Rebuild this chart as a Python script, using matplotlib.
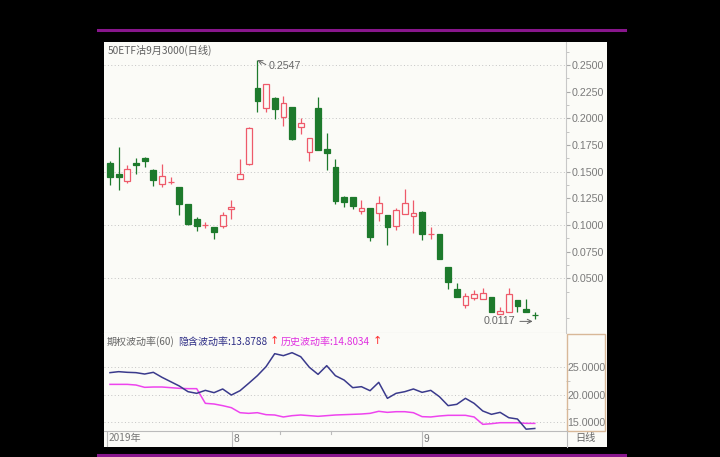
import matplotlib
matplotlib.use('Agg')
import matplotlib.pyplot as plt
import numpy as np
from matplotlib.patches import Rectangle
from matplotlib.lines import Line2D

plt.rcParams['font.family'] = ['Liberation Sans', 'Noto Sans CJK SC', 'DejaVu Sans']

# daily candles of 50ETF put Sep 3000
opens = [0.158, 0.148, 0.1415, 0.158, 0.1628, 0.1515, 0.138, 0.1400, 0.136, 0.1196,
         0.1053, 0.0995, 0.0983, 0.0989, 0.1147, 0.1428, 0.1569, 0.2281, 0.2094, 0.2193,
         0.2009, 0.2109, 0.1918, 0.1681, 0.2094, 0.1712, 0.1546, 0.1259, 0.1259, 0.1133,
         0.1156, 0.1109, 0.1093, 0.0990, 0.1099, 0.1083, 0.1124, 0.0913, 0.0915, 0.0602,
         0.0396, 0.0249, 0.0317, 0.0302, 0.0327, 0.0164, 0.0186, 0.0295, 0.0208, 0.0156]
highs = [0.160, 0.173, 0.156, 0.1625, 0.1634, 0.1522, 0.157, 0.1447, 0.136, 0.1196,
         0.1077, 0.103, 0.0983, 0.1124, 0.1233, 0.1618, 0.1921, 0.2547, 0.2319, 0.2203,
         0.2212, 0.2109, 0.2006, 0.1812, 0.2203, 0.1859, 0.1618, 0.1271, 0.1259, 0.1233,
         0.1156, 0.1271, 0.1093, 0.1156, 0.1337, 0.1233, 0.1133, 0.0983, 0.0918, 0.0602,
         0.0452, 0.0358, 0.0389, 0.0405, 0.0327, 0.0233, 0.0405, 0.0295, 0.0302, 0.0186]
lows = [0.137, 0.133, 0.1396, 0.148, 0.1546, 0.1365, 0.1358, 0.1384, 0.109, 0.0999,
        0.0946, 0.0968, 0.0865, 0.0974, 0.1055, 0.1428, 0.1562, 0.2062, 0.2056, 0.1993,
        0.1928, 0.1797, 0.1850, 0.1599, 0.1703, 0.1515, 0.1196, 0.1171, 0.1149, 0.1102,
        0.0852, 0.1040, 0.0811, 0.0952, 0.1099, 0.0921, 0.0858, 0.0868, 0.0677, 0.0396,
        0.0327, 0.0218, 0.0296, 0.0302, 0.0183, 0.0164, 0.0186, 0.0180, 0.0180, 0.0117]
closes = [0.145, 0.145, 0.152, 0.156, 0.1602, 0.142, 0.146, 0.1402, 0.1196, 0.1006,
          0.0990, 0.0997, 0.0931, 0.1093, 0.1167, 0.1480, 0.1906, 0.2162, 0.2319, 0.2087,
          0.2141, 0.1806, 0.1953, 0.1812, 0.1703, 0.1672, 0.1227, 0.1218, 0.1181, 0.1159,
          0.0889, 0.1203, 0.0977, 0.1140, 0.1209, 0.1115, 0.0915, 0.0916, 0.0677, 0.0464,
          0.0327, 0.0336, 0.0349, 0.0364, 0.0186, 0.0195, 0.0349, 0.0238, 0.0180, 0.0155]

# volatility (60)
implied_vol = [24.03, 24.21, 24.09, 24.03, 23.78, 24.09, 23.18, 22.39, 21.60, 20.57,
               20.27, 20.81, 20.39, 21.06, 19.96, 20.75, 22.09, 23.48, 25.12, 27.48,
               27.12, 27.66, 26.93, 25.00, 23.72, 25.30, 23.48, 22.69, 21.30, 21.48,
               20.75, 22.27, 19.36, 20.27, 20.57, 21.06, 20.45, 20.81, 19.66, 18.03,
               18.27, 19.36, 18.45, 17.06, 16.45, 16.81, 15.84, 15.60, 13.75, 13.88]
hist_vol = [21.90, 21.90, 21.90, 21.78, 21.36, 21.42, 21.42, 21.30, 21.18, 21.12,
            21.12, 18.45, 18.33, 18.03, 17.66, 16.75, 16.63, 16.75, 16.39, 16.33,
            15.97, 16.21, 16.33, 16.21, 16.09, 16.21, 16.33, 16.39, 16.45, 16.51,
            16.63, 17.00, 16.81, 16.93, 16.93, 16.75, 16.03, 15.97, 16.15, 16.27,
            16.27, 16.27, 15.97, 14.63, 14.75, 14.93, 14.93, 14.93, 14.81, 14.80]

price_ticks = [0.05, 0.075, 0.1, 0.125, 0.15, 0.175, 0.2, 0.225, 0.25]
vol_ticks = [15, 20, 25]

W, H = 720, 457
def fx(px):
    return px / W
def fy(py):
    return 1 - py / H

bg = '#fbfbf7'
green = '#1d7a2c'
red = '#ee5a6a'
grid_c = '#c4c4c4'
txt_c = '#7a7a7a'

fig = plt.figure(figsize=(7.2, 4.57), dpi=100, facecolor='black')

# purple rules and white panel (behind the axes)
for py in (30, 455):
    fig.add_artist(Line2D([fx(98), fx(625)], [fy(py), fy(py)], color='#88168c', lw=2.2))
fig.add_artist(Rectangle((fx(104), fy(447)), fx(607) - fx(104), (447 - 42) / H,
                         transform=fig.transFigure, facecolor=bg, edgecolor='none',
                         zorder=-10))

x = np.arange(len(opens))
xlim = (-0.69, 52.6)

# ---- main candle panel
ax = fig.add_axes([fx(104), fy(333), (566 - 104) / W, (333 - 42) / H])
ax.set_facecolor(bg)
ax.set_xlim(*xlim)
ax.set_ylim(-0.0014, 0.2716)
for s in ('left', 'top'):
    ax.spines[s].set_visible(False)
for s in ('right', 'bottom'):
    ax.spines[s].set_color('#c8c8c8')
    ax.spines[s].set_linewidth(0.8)
for g in [0.05, 0.1, 0.15, 0.2, 0.25]:
    ax.axhline(g, color=grid_c, lw=0.7, ls=(0, (1, 2.5)), zorder=0)

w = 0.66
for i in x:
    o, h, l, c = opens[i], highs[i], lows[i], closes[i]
    up = c >= o
    col = red if up else green
    ax.vlines(i, l, h, color=col, lw=0.9, zorder=2)
    bottom = min(o, c)
    height = max(abs(c - o), 0.0003)
    ax.add_patch(Rectangle((i - w / 2, bottom), w, height,
                           facecolor=bg if up else green, edgecolor=col,
                           lw=0.9, zorder=3))

ax.yaxis.tick_right()
ax.set_yticks(price_ticks)
ax.set_yticklabels(['%.4f' % v for v in price_ticks])
ax.set_yticks(np.arange(0.0125, 0.27, 0.025), minor=True)
ax.tick_params(axis='y', which='major', length=3, color='#aaaaaa', labelsize=7.7,
               labelcolor=txt_c, pad=1)
ax.tick_params(axis='y', which='minor', length=2, color='#bbbbbb')
ax.set_xticks([])

ax.annotate('0.2547', xy=(17, 0.2547), xytext=(18.3, 0.249),
            ha='left', va='center', fontsize=7.7, color='#666666',
            arrowprops=dict(arrowstyle='->', color='#666666', lw=0.7,
                            shrinkA=0, shrinkB=0, relpos=(0, 0.5)))
ax.annotate('0.0117', xy=(48.75, 0.0095), xytext=(46.8, 0.0095),
            ha='right', va='center', fontsize=7.7, color='#666666',
            arrowprops=dict(arrowstyle='->', color='#666666', lw=0.7,
                            shrinkA=1, shrinkB=0, relpos=(1, 0.5)))

fig.text(fx(107.5), fy(50), '50ETF沽9月3000(日线)', fontsize=7.3, color='#606060',
         va='center', ha='left', family=['Noto Sans CJK SC', 'DejaVu Sans'])

# ---- volatility panel
ax2 = fig.add_axes([fx(104), fy(431), (566 - 104) / W, (431 - 333) / H])
ax2.set_facecolor(bg)
ax2.set_xlim(*xlim)
ax2.set_ylim(13.42, 31.24)
for s in ('left', 'top', 'right'):
    ax2.spines[s].set_visible(False)
ax2.spines['bottom'].set_color('#bbbbbb')
ax2.spines['bottom'].set_linewidth(0.8)
for g in vol_ticks:
    ax2.axhline(g, color=grid_c, lw=0.7, ls=(0, (1, 2.5)), zorder=0)
ax2.plot(x, hist_vol, color='#ee44ee', lw=1.1)
ax2.plot(x, implied_vol, color='#3a3a8c', lw=1.1)
ax2.yaxis.tick_right()
ax2.set_yticks(vol_ticks)
ax2.set_yticklabels(['%.4f' % v for v in vol_ticks])
ax2.set_yticks([17.5, 22.5], minor=True)
ax2.tick_params(axis='y', which='major', length=0, labelsize=7.7, labelcolor=txt_c, pad=1)
ax2.tick_params(axis='y', which='minor', length=3, color='#bbbbbb')
ax2.set_xticks([])

fig.add_artist(Rectangle((fx(566.5), fy(431)), fx(605) - fx(566.5), (431 - 334) / H,
                         transform=fig.transFigure, facecolor='none',
                         edgecolor='#d8b898', lw=1.0))

cjk = ['Noto Sans CJK SC', 'DejaVu Sans']
ly = fy(341.5)
fig.text(fx(106.5), ly, '期权波动率(60)', fontsize=7.2, color='#666666', va='center', family=cjk)
fig.text(fx(178), ly, '隐含波动率:13.8788', fontsize=7.2, color='#2e2e86', va='center', family=cjk)
fig.text(fx(274), ly, '↑', fontsize=8, color='#ff3030', va='center', ha='center',
         family=['DejaVu Sans'])
fig.text(fx(281), ly, '历史波动率:14.8034', fontsize=7.2, color='#e030e0', va='center', family=cjk)
fig.text(fx(377.5), ly, '↑', fontsize=8, color='#ff3030', va='center', ha='center',
         family=['DejaVu Sans'])

# ---- date row
dy = fy(438.5)
fig.add_artist(Line2D([fx(107), fx(107)], [fy(432), fy(446)], color='#bbbbbb', lw=0.8))
fig.text(fx(109), dy, '2019年', fontsize=7.3, color='#777777', va='center', family=cjk)
for px, lab in ((232, '8'), (422, '9')):
    fig.add_artist(Line2D([fx(px), fx(px)], [fy(431), fy(446)], color='#bbbbbb', lw=0.8))
    fig.text(fx(px + 1.5), dy, lab, fontsize=7.3, color='#777777', va='center')
for px in (280, 331):
    fig.add_artist(Line2D([fx(px), fx(px)], [fy(431), fy(434)], color='#bbbbbb', lw=0.8))
fig.add_artist(Line2D([fx(566.5), fx(566.5)], [fy(431), fy(447)], color='#bbbbbb', lw=0.8))
fig.text(fx(585.5), dy, '日线', fontsize=7.3, color='#666666', va='center', ha='center', family=cjk)

fig.savefig('out.png', dpi=100, facecolor='black')
